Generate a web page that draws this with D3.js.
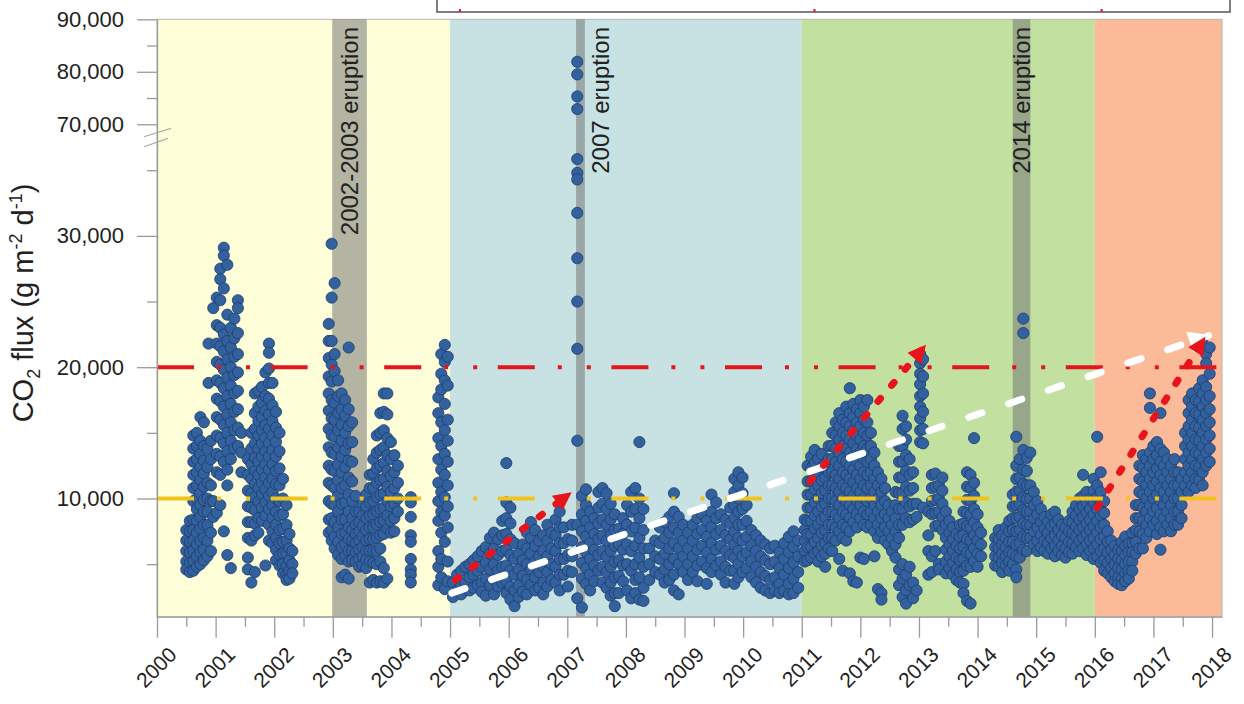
<!DOCTYPE html>
<html>
<head>
<meta charset="utf-8">
<script src="https://cdn.jsdelivr.net/npm/d3@7"></script>
<style>
  body { margin: 0; background: #fff; }
  svg text { font-family: "Liberation Sans", Arial, sans-serif; fill: #222; }
</style>
</head>
<body>
<div id="chart"></div>
<script>
'use strict'

// tick labels
const yearTicks = [2000, 2001, 2002, 2003, 2004, 2005, 2006, 2007, 2008, 2009,
  2010, 2011, 2012, 2013, 2014, 2015, 2016, 2017, 2018]
const fluxMajorTicks = [10000, 20000, 30000, 70000, 80000, 90000]
const fluxMinorTicks = [5000, 15000, 25000, 35000, 75000, 85000]

// background periods and eruptions (decimal years)
const periodStart = [2000, 2005, 2011, 2016]
const periodEnd = [2005, 2011, 2016, 2018.17]
const eruptionNames = ['2002-2003 eruption', '2007 eruption', '2014 eruption']
const eruptionStart = [2002.99, 2007.15, 2014.60]
const eruptionEnd = [2003.58, 2007.30, 2014.90]

// threshold levels
const thresholds = [20000, 10000]

// trend arrows [t0, v0, t1, v1]
const redTrends = [
  [2005.09, 3800, 2007.05, 10400],
  [2011.14, 11300, 2013.10, 21600],
  [2016.04, 9300, 2017.87, 22200]
]
const whiteTrend = [2005.03, 2800, 2017.94, 22400]

// CO2 flux readings, each row: [decimal year, flux values...]
const flux2000 = [
  [2000.50, 7600, 6800, 6000, 5200, 4600],
  [2000.56, 8300, 7500, 6700, 5900, 5100, 4400],
  [2000.62, 14800, 13800, 12800, 11800, 10800, 9800, 8400, 7600, 6800, 6000, 5200, 4500],
  [2000.68, 15000, 14000, 13000, 12000, 11000, 10000, 9200, 8300, 7400, 6500, 5600, 4800],
  [2000.74, 16200, 14400, 13400, 12400, 11400, 10400, 9500, 8600, 7700, 6800, 5900, 5000],
  [2000.80, 15800, 14000, 12900, 11900, 10900, 9900, 9000, 8000, 7000, 6100, 5300],
  [2000.86, 13800, 12400, 11200, 10000, 9000, 8000, 6800, 5600],
  [2000.88, 21800, 18800],
  [2000.92, 14400, 13000, 11000, 9800, 7400, 6000],
  [2000.96, 24500, 9800, 8600],
  [2001.02, 25300, 23200, 21800, 20400, 19000, 17600, 16200, 14800, 13400, 12000, 8900],
  [2001.08, 27500, 26700, 25100, 23000, 21600, 20200, 18800, 17400, 16000, 14600, 13200, 11800, 9500],
  [2001.14, 29100, 28500, 26000, 22500, 21200, 19800, 18400, 17000, 15600, 14200, 12800, 7500],
  [2001.20, 27800, 24000, 22000, 20600, 19200, 17800, 16400, 15000, 13600, 12200, 11000, 5700],
  [2001.26, 23000, 21500, 20000, 18600, 17200, 15800, 14400, 13000, 4700],
  [2001.32, 23700, 22200, 20800, 19400, 18000, 16600, 15200, 13800],
  [2001.38, 25100, 24500, 22600, 21000, 19600, 18200, 16800, 15400, 14000],
  [2001.44, 15000, 13500, 12000],
  [2001.55, 13000, 11800, 10600, 9400, 8200, 7000, 5500, 4600],
  [2001.61, 15000, 13800, 12600, 11500, 10400, 9300, 8200, 6800, 3600],
  [2001.67, 18000, 16500, 15300, 14200, 13100, 12100, 11100, 10100, 9100, 8100, 7200, 4400],
  [2001.73, 18200, 17000, 15900, 14800, 13800, 12800, 11800, 10800, 9800, 8500, 7400],
  [2001.79, 18500, 17300, 16200, 15200, 14200, 13200, 12200, 11200, 10300, 9300, 8300],
  [2001.85, 19600, 17800, 16700, 15600, 14600, 13600, 12600, 11600, 10700, 9700, 8700, 4900],
  [2001.91, 21800, 21100, 19900, 18800, 17600, 16400, 15300, 14200, 13200, 12200, 11200, 10200, 9200, 8000, 6800],
  [2001.97, 18800, 17100, 15900, 14800, 13700, 12600, 11500, 10500, 9500, 8500, 7500, 6600],
  [2002.03, 16600, 15400, 14300, 13200, 12100, 11100, 10000, 9000, 8000, 7000, 6100, 5300],
  [2002.09, 15000, 13600, 12300, 11000, 9800, 8700, 7600, 6600, 5700, 4900],
  [2002.15, 11500, 10000, 8800, 7700, 6700, 5800, 5000, 4300],
  [2002.21, 9500, 8000, 6800, 5800, 4900, 4200, 3800],
  [2002.26, 7300, 6200, 5300, 4500, 3900],
  [2002.31, 6000, 5000, 4300]
]

const flux2003 = [
  [2002.93, 23300, 22000, 20700, 19300, 18000, 16700, 15300, 13900, 12500, 11200, 9800, 8400, 7400],
  [2002.98, 29400, 25300, 22000, 20200, 18900, 17500, 16100, 14800, 13500, 12200, 11000, 9600, 8500, 7600, 6800],
  [2003.03, 26400, 21000, 19700, 17300, 16000, 14700, 13400, 12100, 10800, 9500, 8200, 7100, 6200],
  [2003.09, 19000, 17800, 16500, 15200, 13900, 12600, 11400, 10200, 9000, 7800, 6700, 5700],
  [2003.15, 18000, 16800, 15600, 14400, 13200, 12000, 10800, 9600, 8400, 7300, 6300, 5400, 4000],
  [2003.21, 17500, 16300, 15000, 13700, 12400, 11000, 9700, 8400, 7400, 6500, 5600, 4200],
  [2003.27, 21500, 16800, 15500, 14200, 12900, 11600, 10300, 9000, 7800, 6900, 6000, 5200, 3900],
  [2003.33, 15800, 14300, 12800, 11300, 9800, 8500, 7600, 6800, 6000, 5300],
  [2003.39, 10200, 9000, 8000, 7300, 6600, 5900, 5200],
  [2003.45, 9000, 8200, 7500, 6800, 6100, 5400, 4800],
  [2003.51, 9600, 8700, 7900, 7100, 6300, 5600, 4900],
  [2003.57, 10300, 9400, 8500, 7600, 6800, 6000, 5300, 4700],
  [2003.63, 11800, 10800, 9700, 8700, 7800, 6900, 6000, 5200, 3600],
  [2003.69, 13000, 11900, 10800, 9800, 8800, 7800, 6900, 6000, 5100, 3800],
  [2003.75, 14800, 13500, 12300, 11200, 10100, 9000, 8000, 7000, 6000, 5000, 3600],
  [2003.81, 16500, 15000, 13700, 12500, 11400, 10300, 9200, 8200, 7200, 6200, 5200, 3700],
  [2003.87, 18000, 16600, 15200, 13900, 12700, 11500, 10400, 9300, 8300, 7300, 4700, 3600],
  [2003.93, 18000, 16400, 14600, 13300, 12100, 10900, 9800, 8700, 7700, 3900],
  [2003.99, 14300, 13000, 11700, 10500, 9400, 8300, 7400],
  [2004.05, 13300, 12000, 10800, 9600, 8500, 7500],
  [2004.11, 12500, 11200, 10000, 9000],
  [2004.33, 10100, 9700, 8600, 7200, 6700, 5400, 4600, 4200, 3600],
  [2004.80, 17700, 16500, 14600, 13000, 11200, 9800, 8300, 6000, 4800, 3400],
  [2004.85, 21000, 19500, 18300, 15800, 14000, 12200, 10500, 9000, 7400, 5400, 4000],
  [2004.91, 21700, 20400, 19000, 17200, 15200, 13400, 11800, 10100, 8700, 6700, 3100],
  [2004.96, 20800, 18600, 16000, 14400, 12800, 11000, 9400, 7800, 5200, 3700]
]

const flux2005 = [
  [2005.05, 3600, 2500],
  [2005.12, 4200, 3000],
  [2005.19, 4500, 3300, 2700],
  [2005.26, 4800, 3600],
  [2005.33, 5000, 4000, 3000],
  [2005.40, 5300, 4200, 3200],
  [2005.47, 5600, 4500, 3400],
  [2005.54, 6000, 4800, 3600, 2900],
  [2005.61, 6300, 5100, 3900, 2600],
  [2005.68, 7000, 5800, 4600, 3400],
  [2005.75, 7400, 6200, 5000, 3800, 2700],
  [2005.82, 6900, 5700, 4500, 3300],
  [2005.89, 8300, 7200, 6000, 4800, 3600],
  [2005.96, 12700, 9700, 8500, 7300, 6100, 4900, 3700, 2800],
  [2006.03, 9300, 8100, 6900, 5700, 4500, 3300, 2300],
  [2006.10, 6600, 5400, 4200, 3000, 1800],
  [2006.17, 5800, 4600, 3400, 2500],
  [2006.24, 6500, 5300, 4100, 2900],
  [2006.31, 7400, 6200, 5000, 3800, 2700],
  [2006.38, 8200, 7000, 5800, 4600, 3400],
  [2006.45, 7600, 6400, 5200, 4000, 3000],
  [2006.52, 6800, 5600, 4400, 3200],
  [2006.59, 7200, 6000, 4800, 3600, 2700],
  [2006.66, 8000, 6800, 5600, 4400, 3300],
  [2006.73, 7400, 6200, 5000, 3800],
  [2006.80, 8400, 7200, 6000, 4800, 3600],
  [2006.87, 9000, 7800, 6600, 5400, 4200, 3000],
  [2006.94, 7800, 6600, 5400, 4200],
  [2007.01, 6900, 5700, 4500, 3300],
  [2007.08, 8000, 6800, 5600, 4400],
  [2007.17, 81900, 79500, 75300, 72900, 35850, 34800, 34300, 31750, 28300, 25000, 21400, 14400, 8000, 2400],
  [2007.25, 10200, 8800, 7500, 6300, 5100, 3900, 1700],
  [2007.32, 10700, 9500, 8300, 7100, 5900, 4700, 3500],
  [2007.39, 9000, 7800, 6600, 5400, 4200, 3000],
  [2007.46, 8500, 7300, 6100, 4900, 3700],
  [2007.53, 10500, 9300, 8100, 6900, 5700, 4500],
  [2007.60, 10800, 9600, 8400, 7200, 6000, 4800, 3600],
  [2007.67, 10400, 9200, 8000, 6800, 5600, 4400, 3200],
  [2007.74, 9600, 8400, 7200, 6000, 4800, 3600, 2600],
  [2007.81, 8800, 7600, 6400, 5200, 4000, 2800, 1800],
  [2007.88, 7700, 6500, 5300, 4100, 2800],
  [2007.95, 8500, 7300, 6100, 4900, 3700]
]

const flux2008 = [
  [2008.02, 9500, 8000, 6500, 5000, 3000],
  [2008.09, 10500, 9000, 7500, 6000, 4500, 2400],
  [2008.16, 10800, 9200, 7800, 6400, 5000, 3800, 2800],
  [2008.23, 14300, 10000, 8500, 7000, 5500, 4000, 2300],
  [2008.30, 9200, 7600, 6200, 4800, 3200, 2200],
  [2008.40, 6200, 5000, 3800],
  [2008.50, 6800, 5600, 4400],
  [2008.58, 7800, 6600, 5400, 4200],
  [2008.66, 8200, 7000, 5800, 4600, 3600],
  [2008.74, 8600, 7400, 6200, 5000, 3800],
  [2008.82, 10400, 9000, 7800, 6600, 5400, 4200, 3000],
  [2008.90, 8600, 7400, 6200, 5000, 2700],
  [2008.98, 8000, 6800, 5600, 4400],
  [2009.06, 7400, 6200, 5000, 3800],
  [2009.14, 8000, 6800, 5600, 4400],
  [2009.22, 8500, 7300, 6100, 4900, 3700],
  [2009.30, 8800, 7600, 6400, 5200],
  [2009.38, 8300, 7100, 5900, 4700, 3500],
  [2009.46, 10300, 9000, 7800, 6600, 5400, 4400],
  [2009.54, 9700, 8500, 7300, 6100, 4900],
  [2009.62, 8800, 7600, 6400, 5200, 4200],
  [2009.70, 8400, 7200, 6000, 4800, 3600],
  [2009.78, 9300, 8100, 6900, 5700, 4500],
  [2009.85, 11500, 10500, 9500, 8500, 7500, 6500, 5500, 4500, 3500],
  [2009.92, 12000, 11000, 10000, 9000, 8000, 7000, 6000, 5000, 4000],
  [2009.99, 11600, 10400, 9200, 8000, 6800, 5600, 4400],
  [2010.06, 9500, 8300, 7100, 5900, 4700],
  [2010.14, 7600, 6400, 5200, 4000],
  [2010.22, 7200, 6000, 4800, 3600],
  [2010.30, 6800, 5600, 4400, 3200],
  [2010.38, 6500, 5300, 4100, 3000],
  [2010.46, 6200, 5000, 3800, 2800],
  [2010.54, 6400, 5200, 4000, 3000],
  [2010.62, 5900, 4700, 3500, 2800],
  [2010.70, 6600, 5400, 4200, 3000],
  [2010.78, 7100, 5900, 4700, 3500, 2700],
  [2010.86, 7500, 6300, 5100, 3900, 2800],
  [2010.94, 6800, 5600, 4400, 3200]
]

const flux2011 = [
  [2011.05, 8400, 7600, 6800, 6000, 5200],
  [2011.10, 12500, 11300, 10300, 9300, 8300, 7300, 6300, 5300],
  [2011.16, 13200, 12300, 11300, 10300, 9300, 8300, 7300, 6300, 5500],
  [2011.22, 13700, 12700, 11700, 10700, 9700, 8700, 7700, 6700, 5800],
  [2011.28, 13000, 12000, 11000, 10000, 9000, 8000, 7000, 6000, 5200],
  [2011.34, 13400, 12400, 11400, 10400, 9400, 8400, 7400, 6400, 5600],
  [2011.40, 12600, 11600, 10600, 9600, 8600, 7600, 6600, 5800, 4800],
  [2011.46, 14000, 13000, 12000, 11000, 10000, 9000, 8000, 7000, 6200],
  [2011.52, 15000, 14000, 13000, 12000, 11000, 10000, 9000, 8000, 7000, 6000],
  [2011.58, 15800, 14800, 13800, 12800, 11800, 10800, 9800, 8800, 7800, 6800],
  [2011.64, 16500, 15500, 14500, 13500, 12500, 11500, 10500, 9500, 8500, 7500, 5400],
  [2011.70, 16000, 15000, 14000, 13000, 12000, 11000, 10000, 9000, 8000, 7000, 4500],
  [2011.76, 17000, 15800, 14800, 13800, 12800, 11800, 10800, 9800, 8800, 7800, 6800],
  [2011.82, 18400, 16500, 15500, 14500, 13500, 12500, 11500, 10500, 9500, 8500, 7500, 4300],
  [2011.88, 17200, 16200, 15200, 14200, 13200, 12200, 11200, 10200, 9200, 8200, 3700],
  [2011.94, 16800, 15800, 14800, 13800, 12800, 11800, 10800, 9800, 8800, 7800, 3600],
  [2012.00, 17500, 16500, 15500, 14500, 13500, 12500, 11500, 10500, 9500, 8500, 5500],
  [2012.06, 17000, 16000, 15000, 14000, 13000, 12000, 11000, 10000, 9000, 8000, 5400],
  [2012.12, 17500, 15800, 14800, 13800, 12800, 11800, 10800, 9800, 8800, 7800],
  [2012.18, 15000, 14000, 13000, 12000, 11000, 10000, 9000, 8000],
  [2012.24, 13500, 12500, 11500, 10500, 9500, 8500, 7500, 5600],
  [2012.30, 12000, 11000, 10000, 9000, 8000, 7000, 3100],
  [2012.36, 11500, 10500, 9500, 8500, 7500, 2800, 2300],
  [2012.42, 10800, 9800, 8800, 7800, 6800],
  [2012.48, 9500, 8500, 7500, 6500],
  [2012.54, 9000, 8000, 7000, 6000],
  [2012.60, 10500, 9500, 8500, 7500, 6500, 5500],
  [2012.66, 14000, 12800, 11600, 10400, 9200, 8000, 7000, 4600, 3400],
  [2012.72, 16300, 15300, 14000, 12800, 11600, 10400, 9200, 8000, 5000, 3900, 2500],
  [2012.78, 15500, 14500, 13300, 12100, 10900, 9700, 8500, 4200, 3000, 2000],
  [2012.84, 13000, 11800, 10600, 9400, 8200, 4800, 3400],
  [2012.90, 12000, 10800, 9600, 8400, 3600, 2400],
  [2012.96, 9600, 8600, 3000],
  [2013.02, 21000, 20300, 19500, 18700, 17800, 17000, 16100, 15200, 14300],
  [2013.07, 20600, 19300, 18000, 16600, 15300, 14200, 9300],
  [2013.16, 9000, 7200, 6000, 4200],
  [2013.22, 11800, 10800, 9800, 8800, 5600, 4400],
  [2013.28, 11900, 10900, 9900, 8900, 7900, 6000],
  [2013.34, 11000, 10000, 9000, 8000, 5000, 4600],
  [2013.40, 11600, 10600, 9600, 8600, 7600],
  [2013.46, 9000, 8000, 7000, 6100, 5200, 4300],
  [2013.52, 8300, 7400, 6500, 5600, 4700],
  [2013.58, 7800, 6900, 6000, 5100, 4200],
  [2013.64, 7300, 6400, 5500, 4600, 3800],
  [2013.70, 8000, 7100, 6200, 5300, 4400, 3600],
  [2013.76, 9000, 8100, 7200, 6300, 5400, 4500, 3500, 2800],
  [2013.82, 12000, 10900, 9900, 8900, 7900, 6900, 5900, 4900, 2200],
  [2013.88, 11800, 10800, 9800, 8800, 7800, 6800, 5800, 4800, 2000],
  [2013.94, 14600, 11200, 10200, 9200, 8200, 7200, 6200, 5200],
  [2014.00, 8800, 7800, 6800, 5800, 4800],
  [2014.06, 7400, 6500, 5600]
]

const flux2014 = [
  [2014.30, 7000, 6300, 5600, 4900],
  [2014.36, 7600, 6900, 6200, 5500, 4800],
  [2014.42, 7200, 6500, 5800, 5100, 4400],
  [2014.48, 7800, 7000, 6300, 5600, 4900],
  [2014.54, 8300, 7500, 6700, 5900, 5200, 4500],
  [2014.60, 10300, 9400, 8500, 7600, 6700, 5800, 5000],
  [2014.66, 14700, 12500, 11500, 10500, 9500, 8500, 7500, 6500, 5600, 4600, 4000],
  [2014.72, 13000, 11600, 10600, 9600, 8600, 7600, 6600, 5500],
  [2014.78, 23700, 22600, 13700, 12200, 11100, 10100, 9100, 8100, 7100, 6100],
  [2014.84, 13100, 12100, 11000, 10000, 9000, 8000, 7000, 6000],
  [2014.90, 13500, 11000, 10000, 9000, 8000, 7000],
  [2014.96, 10500, 9500, 8500, 7500, 6500],
  [2015.02, 9800, 8800, 7800, 6800, 6000],
  [2015.08, 9200, 8200, 7200, 6300],
  [2015.14, 8600, 7700, 6800, 6000],
  [2015.20, 8200, 7400, 6600, 5800],
  [2015.26, 8800, 7900, 7000, 6200],
  [2015.32, 9000, 8100, 7200, 6400, 5600],
  [2015.38, 8400, 7600, 6800, 6000],
  [2015.44, 8000, 7200, 6400, 5700],
  [2015.50, 7800, 7000, 6200, 5500],
  [2015.56, 8300, 7500, 6700, 5900],
  [2015.62, 9000, 8200, 7400, 6600, 5800],
  [2015.68, 9500, 8700, 7900, 7100, 6300],
  [2015.74, 10000, 9200, 8400, 7600, 6800, 6000],
  [2015.80, 11800, 10200, 9400, 8600, 7800, 7000, 6200],
  [2015.86, 10500, 9700, 8900, 8100, 7300, 6500, 5700],
  [2015.92, 10000, 9200, 8400, 7600, 6800, 6000],
  [2015.98, 11500, 10600, 9700, 8800, 7900, 7000, 6200, 5400]
]

const flux2016 = [
  [2016.04, 14700, 11000, 10100, 9200, 8300, 7400, 6500, 5600],
  [2016.10, 12000, 10500, 9600, 8700, 7800, 6900, 6000, 5100],
  [2016.16, 9800, 8900, 8000, 7100, 6200, 5300, 4500],
  [2016.22, 7500, 6700, 5900, 5100, 4300],
  [2016.28, 6800, 6100, 5400, 4700, 4000],
  [2016.34, 6400, 5700, 5000, 4300, 3700],
  [2016.40, 6100, 5400, 4700, 4000, 3500],
  [2016.46, 6700, 6000, 5300, 4600, 3900, 3400],
  [2016.52, 7100, 6400, 5700, 5000, 4300, 3700],
  [2016.58, 6600, 5900, 5200, 4500, 3900],
  [2016.64, 7400, 6600, 5900, 5200, 4500],
  [2016.70, 9500, 8500, 7600, 6700, 5800],
  [2016.76, 12500, 11500, 10500, 9500, 8500, 7500, 6200],
  [2016.82, 13300, 12300, 11300, 10300, 9300, 8300, 7300, 6200],
  [2016.88, 13000, 12000, 11000, 10000, 9000, 8000, 7000],
  [2016.94, 18000, 16900, 13500, 12500, 11500, 10500, 9500, 8500, 7500],
  [2017.00, 14000, 13000, 12000, 11000, 10000, 9000, 8000],
  [2017.06, 14300, 13300, 12300, 11300, 10300, 9300, 8300, 7300],
  [2017.12, 16500, 13800, 12800, 11800, 10800, 9800, 8800, 7800, 6100],
  [2017.18, 13500, 12500, 11500, 10500, 9500, 8500, 7500],
  [2017.24, 13000, 12000, 11000, 10000, 9000, 8000],
  [2017.30, 12500, 11500, 10500, 9500, 8500, 7500],
  [2017.36, 13000, 12000, 11000, 10000, 9000, 8000],
  [2017.42, 12000, 11000, 10000, 9000, 8000],
  [2017.48, 11500, 10500, 9500, 8500],
  [2017.54, 15000, 14000, 13000, 12000, 11000],
  [2017.60, 17500, 16500, 15500, 14500, 13500, 12500, 11500, 10500],
  [2017.66, 18000, 17000, 16000, 15000, 14000, 13000, 12000, 11000],
  [2017.72, 17500, 16500, 15500, 14500, 13500, 12500, 11500, 10800],
  [2017.78, 18400, 17400, 16400, 15400, 14400, 13400, 12400, 11400],
  [2017.84, 21800, 19000, 18000, 17000, 16000, 15000, 14000, 13000, 12000, 11000],
  [2017.90, 21000, 20300, 18500, 17500, 16500, 15500, 14500, 13500, 12500],
  [2017.96, 21500, 19500, 17800, 16800, 15800, 14800, 13800, 12800]
]

// styles
const periodColors = ['#fefed9', '#c8e2e3', '#c2e0a0', '#fbbb99']
const thresholdColors = ['#e3161d', '#f2c31c']

const W = 1244
const H = 704
const plotTop = 19.3
const plotBottom = 616.7

const x = d3.scaleLinear().domain([2000, 2018.17]).range([157, 1222])
// broken y axis: lower part up to ~37,500, upper part from ~67,500
const y = d3.scaleLinear()
  .domain([1000, 37500, 67500, 90000])
  .range([plotBottom, 137.4, 137.4, plotTop])

const svg = d3.select('#chart').append('svg')
  .attr('width', W)
  .attr('height', H)

const defs = svg.append('defs')
defs.append('marker')
  .attr('id', 'headRed')
  .attr('viewBox', '0 0 10 10')
  .attr('refX', 9).attr('refY', 5)
  .attr('markerUnits', 'userSpaceOnUse')
  .attr('markerWidth', 20).attr('markerHeight', 18)
  .attr('orient', 'auto')
  .append('path').attr('d', 'M0,0 L10,5 L0,10 Z').attr('fill', '#e8141c')
defs.append('marker')
  .attr('id', 'headWhite')
  .attr('viewBox', '0 0 10 10')
  .attr('refX', 9).attr('refY', 5)
  .attr('markerUnits', 'userSpaceOnUse')
  .attr('markerWidth', 24).attr('markerHeight', 22)
  .attr('orient', 'auto')
  .append('path').attr('d', 'M0,0 L10,5 L0,10 Z').attr('fill', '#fff')

// cut-off legend frame above the plot
svg.append('rect')
  .attr('x', 437).attr('y', -6).attr('width', 793).attr('height', 18)
  .attr('fill', '#fff').attr('stroke', '#555').attr('stroke-width', 1.5)
svg.selectAll('.legmark').data([2005.15, 2011.2, 2016.1]).join('rect')
  .attr('x', d => x(d)).attr('y', 9).attr('width', 2).attr('height', 3)
  .attr('fill', '#e3161d')

// period backgrounds
svg.selectAll('.period').data(periodStart).join('rect')
  .attr('x', d => x(d))
  .attr('y', plotTop)
  .attr('width', (d, i) => x(periodEnd[i]) - x(d))
  .attr('height', plotBottom - plotTop)
  .attr('fill', (d, i) => periodColors[i])

svg.append('rect')
  .attr('x', x(2000)).attr('y', plotTop)
  .attr('width', x(2018.17) - x(2000)).attr('height', plotBottom - plotTop)
  .attr('fill', 'none').attr('stroke', '#b5b5b5').attr('stroke-width', 1)

// eruption bands
svg.selectAll('.erupt').data(eruptionStart).join('rect')
  .attr('x', d => x(d))
  .attr('y', plotTop)
  .attr('width', (d, i) => x(eruptionEnd[i]) - x(d))
  .attr('height', plotBottom - plotTop)
  .attr('fill', '#777').attr('fill-opacity', 0.55)

svg.selectAll('.eruptLabel').data(eruptionNames).join('text')
  .attr('transform', (d, i) => {
    const x0 = x(eruptionStart[i])
    const x1 = x(eruptionEnd[i])
    const bx = (x1 - x0) < 12 ? x1 + 24 : (x0 + x1) / 2 + 8
    return 'translate(' + bx + ',27) rotate(-90)'
  })
  .attr('text-anchor', 'end')
  .attr('font-size', 24)
  .text(d => d)

// points
const allCols = [].concat(flux2000, flux2003, flux2005, flux2008, flux2011, flux2014, flux2016)
const points = allCols.flatMap(c => c.slice(1).map(v => ({ t: c[0], v: v })))

svg.append('g').selectAll('circle').data(points).join('circle')
  .attr('cx', d => x(d.t))
  .attr('cy', d => y(d.v))
  .attr('r', 5.6)
  .attr('fill', '#33619e')
  .attr('stroke', '#1d3c6c')
  .attr('stroke-width', 0.8)

// threshold lines
svg.selectAll('.thr').data(thresholds).join('line')
  .attr('x1', x(2000)).attr('x2', x(2018.17))
  .attr('y1', d => y(d)).attr('y2', d => y(d))
  .attr('stroke', (d, i) => thresholdColors[i])
  .attr('stroke-width', 4)
  .attr('stroke-dasharray', '37 23 4 25 4 20.6')

// trend arrows
svg.append('line')
  .attr('x1', x(whiteTrend[0])).attr('y1', y(whiteTrend[1]))
  .attr('x2', x(whiteTrend[2])).attr('y2', y(whiteTrend[3]))
  .attr('stroke', '#fff').attr('stroke-width', 7)
  .attr('stroke-linecap', 'round')
  .attr('stroke-dasharray', '14 28')
  .attr('marker-end', 'url(#headWhite)')

svg.selectAll('.redTrend').data(redTrends).join('line')
  .attr('x1', d => x(d[0])).attr('y1', d => y(d[1]))
  .attr('x2', d => x(d[2])).attr('y2', d => y(d[3]))
  .attr('stroke', '#e8141c').attr('stroke-width', 7)
  .attr('stroke-linecap', 'round')
  .attr('stroke-dasharray', '4 17')
  .attr('marker-end', 'url(#headRed)')

// x axis
const halfYears = yearTicks.slice(0, -1).map(d => d + 0.5)
const gx = svg.append('g').attr('transform', 'translate(0,' + plotBottom + ')')
  .call(d3.axisBottom(x).tickValues(yearTicks).tickSize(21).tickSizeOuter(0).tickFormat(''))
svg.append('g').attr('transform', 'translate(0,' + plotBottom + ')')
  .call(d3.axisBottom(x).tickValues(halfYears).tickSize(10).tickSizeOuter(0).tickFormat(''))
  .call(g => g.select('.domain').remove())
svg.selectAll('.tick line').attr('stroke', '#9a9a9a').attr('stroke-width', 1.3)
gx.select('.domain').attr('stroke', '#9a9a9a').attr('stroke-width', 1.3)

svg.selectAll('.xlab').data(yearTicks).join('text')
  .attr('transform', d => 'translate(' + (x(d) + 21) + ',656) rotate(-45)')
  .attr('text-anchor', 'end')
  .attr('font-size', 21)
  .text(d => d)

// y axis
const gy = svg.append('g').attr('transform', 'translate(' + x(2000) + ',0)')
  .call(d3.axisLeft(y).tickValues(fluxMajorTicks).tickSize(20).tickPadding(13)
    .tickSizeOuter(0).tickFormat(d3.format(',')))
gy.selectAll('text').attr('font-size', 22).style('font-family', '"Liberation Sans", Arial, sans-serif').attr('fill', '#222')
svg.append('g').attr('transform', 'translate(' + x(2000) + ',0)')
  .call(d3.axisLeft(y).tickValues(fluxMinorTicks).tickSize(10).tickSizeOuter(0).tickFormat(''))
  .call(g => g.select('.domain').remove())
  .selectAll('.tick line').attr('stroke', '#9a9a9a').attr('stroke-width', 1.3)
gy.selectAll('.tick line').attr('stroke', '#9a9a9a').attr('stroke-width', 1.3)
gy.select('.domain').attr('stroke', '#9a9a9a').attr('stroke-width', 1.3)

// axis break marks
const yb = y(37500)
svg.append('line').attr('x1', 144).attr('y1', yb - 0.7).attr('x2', 171).attr('y2', yb - 9)
  .attr('stroke', '#aaa').attr('stroke-width', 1.2)
svg.append('line').attr('x1', 144).attr('y1', yb + 9.3).attr('x2', 168).attr('y2', yb + 1)
  .attr('stroke', '#aaa').attr('stroke-width', 1.2)

// y title
const title = svg.append('text')
  .attr('transform', 'translate(33,303) rotate(-90)')
  .attr('text-anchor', 'middle')
  .attr('font-size', 29)
title.append('tspan').text('CO')
title.append('tspan').attr('font-size', 18).attr('dy', 7).text('2')
title.append('tspan').attr('dy', -7).text(' flux (g m')
title.append('tspan').attr('font-size', 18).attr('dy', -11).text('-2')
title.append('tspan').attr('dy', 11).text(' d')
title.append('tspan').attr('font-size', 18).attr('dy', -11).text('-1')
title.append('tspan').attr('dy', 11).text(')')
</script>
</body>
</html>
